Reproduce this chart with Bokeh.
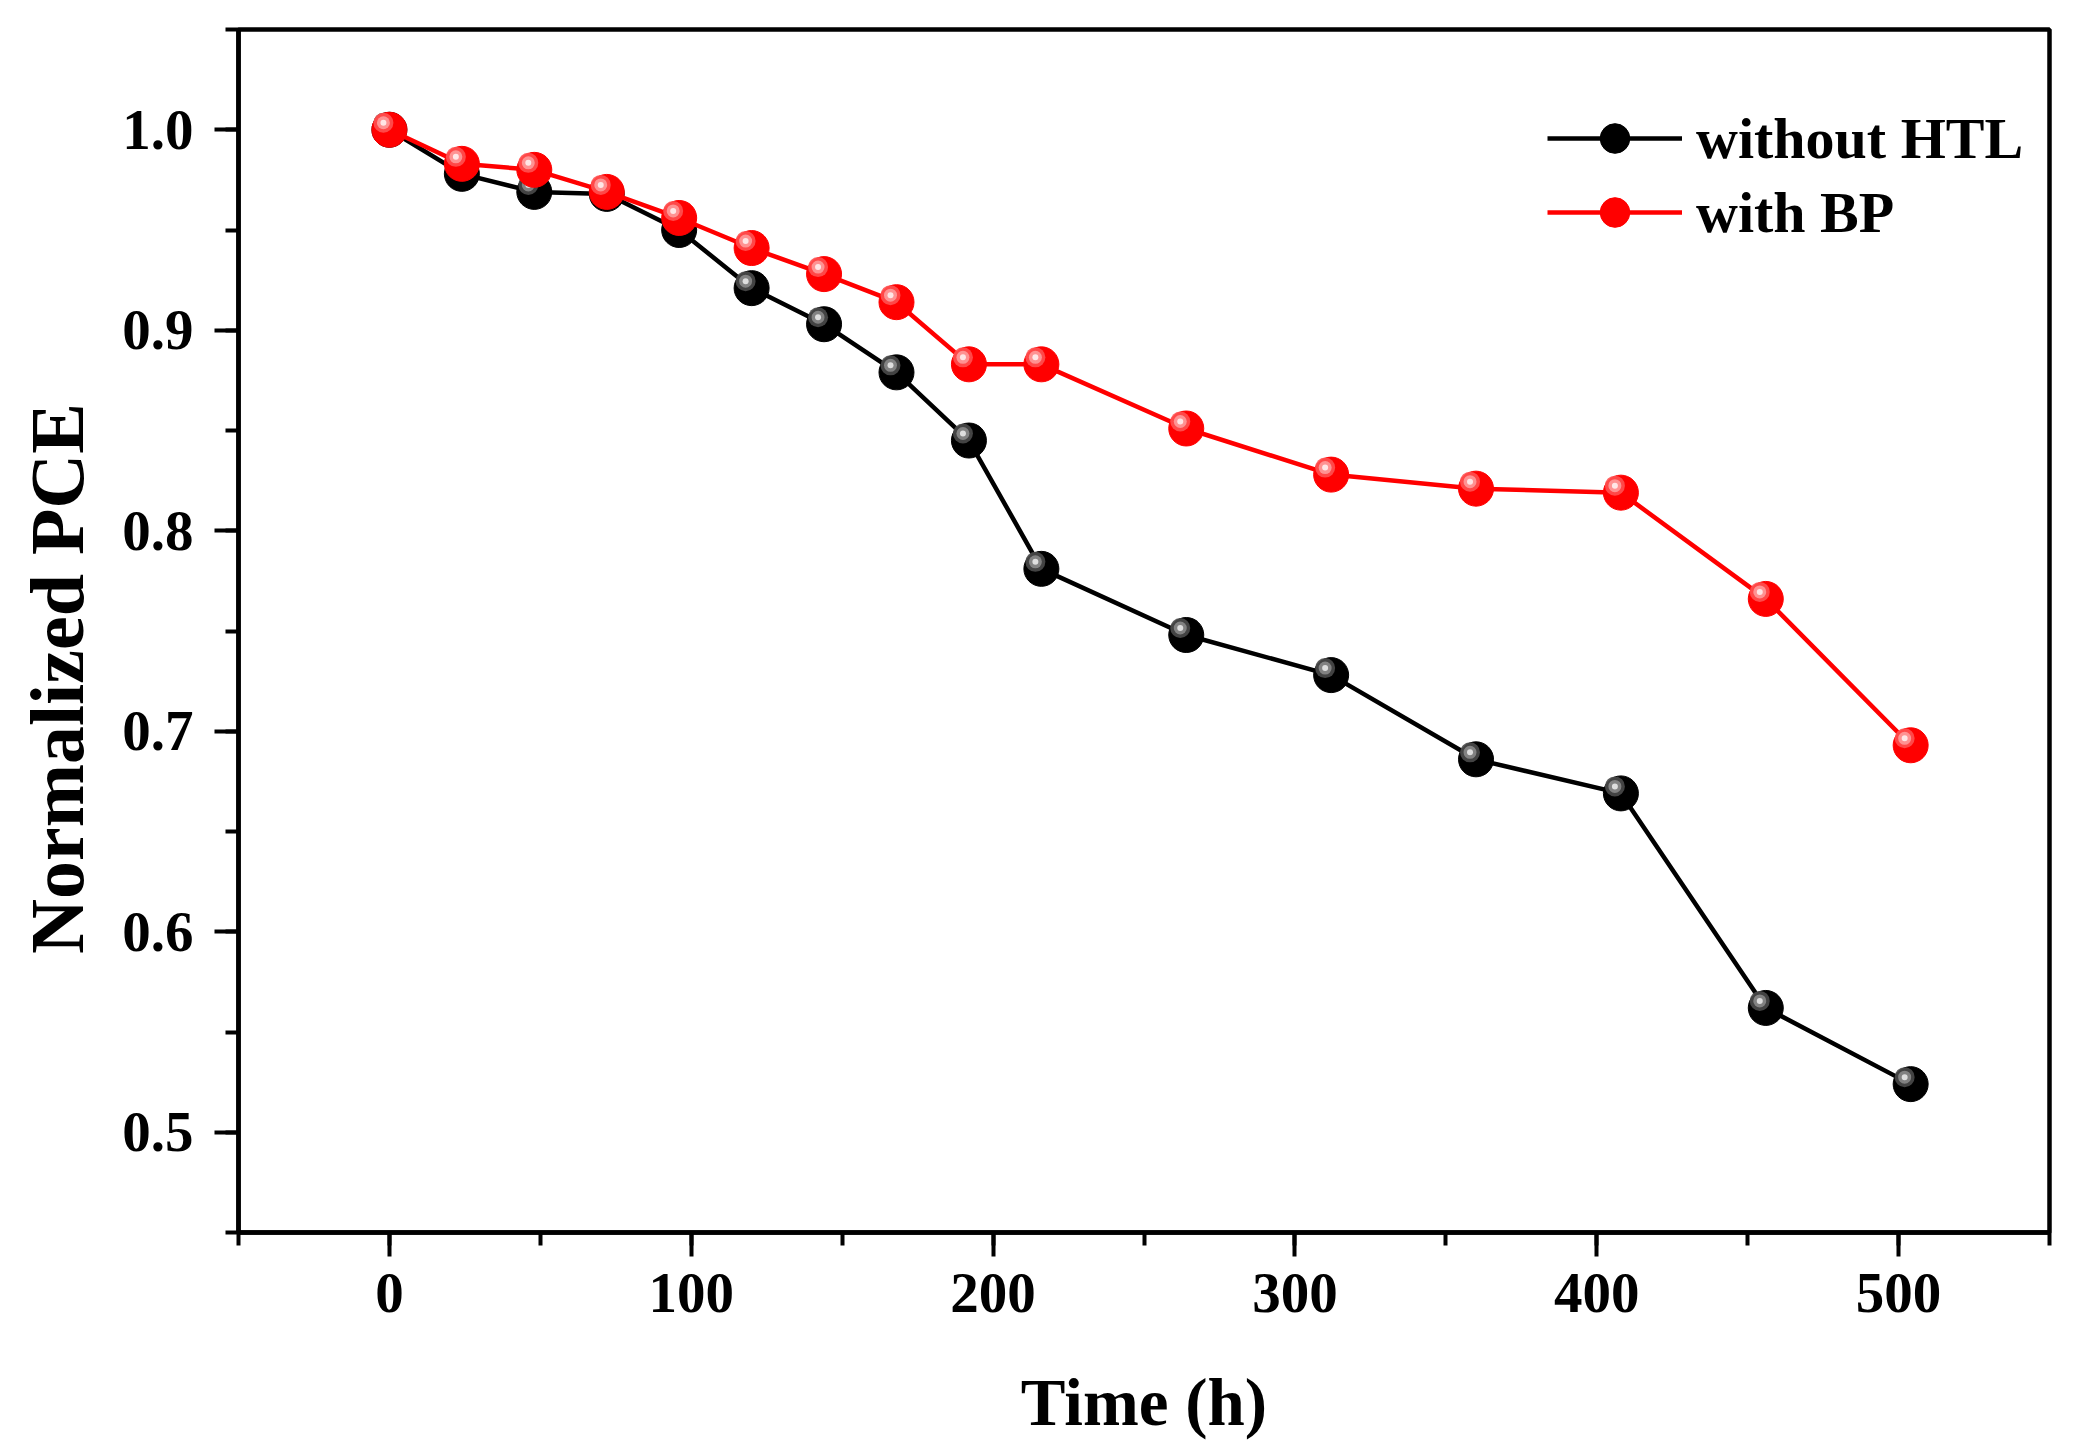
from bokeh.plotting import figure
from bokeh.models import (ColumnDataSource, Range1d, SingleIntervalTicker, PrintfTickFormatter,
                          Legend, LegendItem)
from bokeh.transform import dodge
from bokeh.embed import file_html
from bokeh.resources import INLINE

# ---- data ----
time_h = [0, 24, 48, 72, 96, 120, 144, 168, 192, 216, 264, 312, 360, 408, 456, 504]
without_htl = [1.0, 0.978, 0.969, 0.968, 0.950, 0.921, 0.903, 0.879, 0.845, 0.781,
               0.748, 0.728, 0.686, 0.669, 0.562, 0.524]
with_bp = [1.0, 0.983, 0.980, 0.969, 0.956, 0.941, 0.928, 0.914, 0.883, 0.883,
           0.851, 0.828, 0.821, 0.819, 0.766, 0.693]
series_labels = ["without HTL", "with BP"]
x_label = "Time (h)"
y_label = "Normalized PCE"

FONT = "Liberation Serif"
X0, X1 = -50, 550
Y0, Y1 = 0.45, 1.05

W, H = 2064, 1450
p = figure(width=W, height=H, output_backend="svg", toolbar_location=None,
           x_range=Range1d(X0, X1), y_range=Range1d(Y0, Y1),
           min_border_left=238, min_border_right=15, min_border_top=29, min_border_bottom=218)
p.grid.visible = False
p.background_fill_color = "white"
p.border_fill_color = "white"
p.outline_line_color = "black"
p.outline_line_width = 4.5

p.xaxis.ticker = SingleIntervalTicker(interval=100, num_minor_ticks=2)
p.yaxis.ticker = SingleIntervalTicker(interval=0.1, num_minor_ticks=2)
p.yaxis.formatter = PrintfTickFormatter(format="%.1f")

for ax in (p.xaxis[0], p.yaxis[0]):
    ax.axis_line_width = 4.5
    ax.axis_line_color = "black"
    ax.major_tick_line_width = 4
    ax.minor_tick_line_width = 4
    ax.major_tick_in = 0
    ax.minor_tick_in = 0
    ax.major_tick_out = 24
    ax.minor_tick_out = 13
    ax.major_label_text_font = FONT
    ax.major_label_text_font_style = "bold"
    ax.major_label_text_font_size = "57px"
    ax.major_label_text_color = "black"
    ax.axis_label_text_font = FONT
    ax.axis_label_text_font_style = "bold"
    ax.axis_label_text_color = "black"

p.xaxis.axis_label = x_label
p.xaxis.axis_label_text_font_size = "67px"
p.xaxis.major_label_standoff = 17
p.xaxis.axis_label_standoff = 50

# trailing no-break spaces shift the rotated title slightly below the frame centre, as in the reference
p.yaxis.axis_label = y_label + "\u00a0" * 5
p.yaxis.axis_label_text_font_size = "76px"
p.yaxis.major_label_standoff = 21
p.yaxis.axis_label_standoff = 20

src_b = ColumnDataSource(dict(x=time_h, y=without_htl))
src_r = ColumnDataSource(dict(x=time_h, y=with_bp))

# highlight offsets (style: a few pixels up-left of each sphere's centre)
dx = -6 * (X1 - X0) / 1811
dy = 7 * (Y1 - Y0) / 1203

renderers = {}
for key, src, base, shades in (("b", src_b, "black", ("#4a4a4a", "#8a8a8a", "#e8e8e8")),
                               ("r", src_r, "#ff0000", ("#ff5050", "#ff9a9a", "#fff0f0"))):
    ln = p.line("x", "y", source=src, line_color=base, line_width=4.5)
    sc = p.scatter("x", "y", source=src, size=35, fill_color=base, line_color=base, line_width=1)
    for sz, col in zip((20, 13, 6), shades):
        p.scatter(x=dodge("x", dx, range=p.x_range), y=dodge("y", dy, range=p.y_range), source=src,
                  size=sz, fill_color=col, line_color=None, fill_alpha=0.9)
    renderers[key] = (ln, sc)

legend = Legend(items=[LegendItem(label=series_labels[0], renderers=list(renderers["b"])),
                       LegendItem(label=series_labels[1], renderers=list(renderers["r"]))],
                location=(1309, 983), orientation="vertical",
                glyph_width=135, glyph_height=74, label_height=74, spacing=0,
                label_standoff=14, padding=0, margin=0,
                border_line_color=None, background_fill_alpha=0,
                label_text_font=FONT, label_text_font_style="bold",
                label_text_font_size="58px", label_text_color="black")
p.add_layout(legend, "center")

open("out.html", "w").write(file_html(p, INLINE))
